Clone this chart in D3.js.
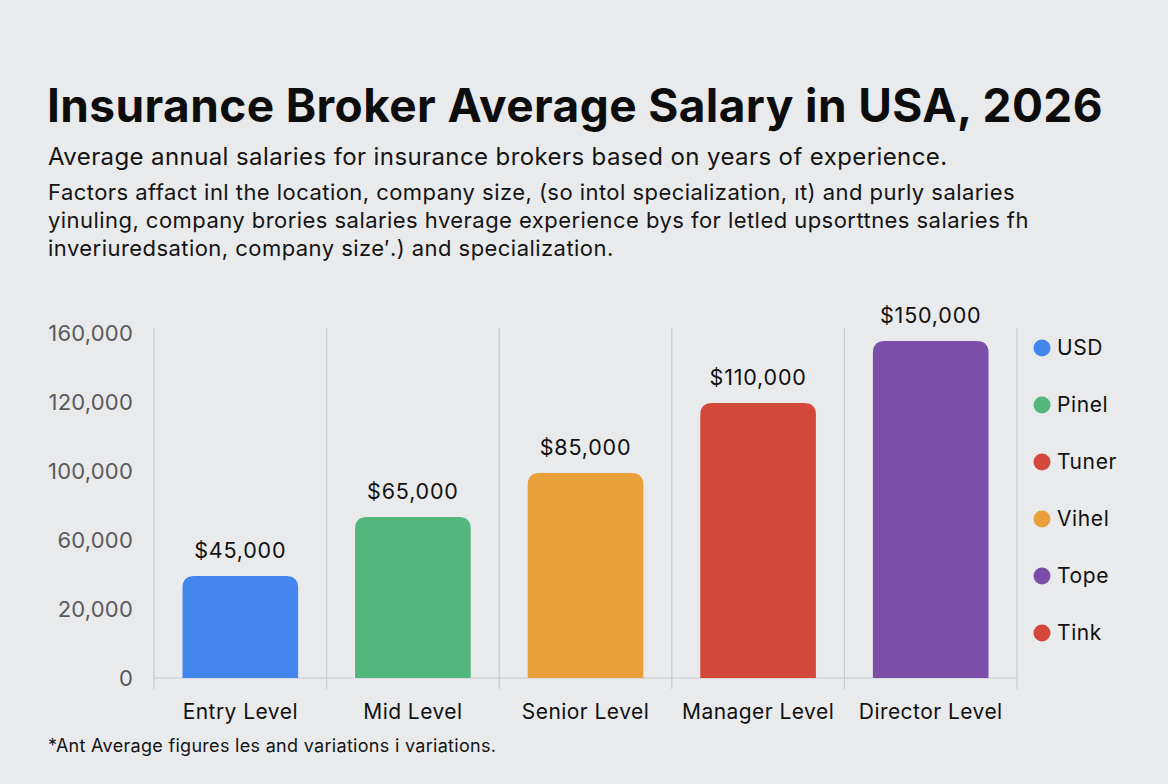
<!DOCTYPE html>
<html>
<head>
<meta charset="utf-8">
<script src="https://cdn.jsdelivr.net/npm/d3@7"></script>
<style>
  body { margin: 0; background: #e9eaec; }
  svg { display: block; font-family: Inter, "Noto Sans", sans-serif; }
</style>
</head>
<body>
<div id="chart"></div>
<script>
// chart data
var levels = ["Entry Level", "Mid Level", "Senior Level", "Manager Level", "Director Level"];
var salaries = [45000, 65000, 85000, 110000, 150000];        // printed labels
var barLevels = [47300, 74700, 95100, 127500, 156300];       // bar heights against the grid
var barColors = ["#4387ee", "#52b67d", "#e9a03b", "#d4483b", "#7b4fa9"];
var tickLabels = ["0", "20,000", "60,000", "100,000", "120,000", "160,000"];
var legendNames = ["USD", "Pinel", "Tuner", "Vihel", "Tope", "Tink"];
var legendColors = ["#4387ee", "#52b67d", "#d4483b", "#e9a03b", "#7b4fa9", "#d4483b"];

var title = "Insurance Broker Average Salary in USA, 2026";
var subtitle = "Average annual salaries for insurance brokers based on years of experience.";
var notes = [
  "Factors affact inl the location, company size, (so intol specialization, \u0131t) and purly salaries",
  "yinuling, company brories salaries hverage experience bys for letled upsorttnes salaries fh",
  "inveriuredsation, company size\u2032.) and specialization."
];
var footnote = "*Ant Average figures les and variations i variations.";

var W = 1168, H = 784;
var plot = {left: 154, right: 1017, top: 333, bottom: 678};

var svg = d3.select("#chart").append("svg")
    .attr("width", W)
    .attr("height", H);

svg.append("rect").attr("width", W).attr("height", H).attr("fill", "#e9eaec");

// titles
svg.append("text")
    .attr("x", 47).attr("y", 122)
    .style("font-size", "46px").style("font-weight", 700)
    .style("letter-spacing", "0.4px").style("fill", "#0d0d0d")
    .text(title);

svg.append("text")
    .attr("x", 48).attr("y", 165)
    .style("font-size", "24px").style("letter-spacing", "0.4px").style("fill", "#141414")
    .text(subtitle);

svg.selectAll(".note")
    .data(notes).enter()
    .append("text")
    .attr("class", "note")
    .attr("x", 48)
    .attr("y", (d, i) => 200 + i * 28)
    .style("font-size", "22px").style("letter-spacing", "0.45px").style("fill", "#141414")
    .text(d => d);

// scales
var x = d3.scaleBand()
    .domain(levels)
    .range([plot.left, plot.right])
    .paddingInner(0.33)
    .paddingOuter(0.165);

var xBands = d3.scaleBand().domain(levels).range([plot.left, plot.right]);

var y = d3.scaleLinear()
    .domain([0, 160000])
    .range([plot.bottom, plot.top]);

// tick labels sit evenly up the axis
var yTicks = d3.scalePoint()
    .domain(tickLabels)
    .range([plot.bottom, plot.top]);

// vertical separators
var seps = levels.map(d => xBands(d)).concat([plot.right]);
svg.append("g").selectAll("line")
    .data(seps).enter()
    .append("line")
    .attr("x1", d => d).attr("x2", d => d)
    .attr("y1", plot.top - 5).attr("y2", plot.bottom + 11)
    .attr("stroke", "#c9cacd").attr("stroke-width", 1.2);

// baseline
svg.append("line")
    .attr("x1", plot.left).attr("x2", plot.right)
    .attr("y1", plot.bottom).attr("y2", plot.bottom)
    .attr("stroke", "#c9cacd").attr("stroke-width", 1.2);

// y axis
var yAxis = svg.append("g")
    .attr("transform", "translate(" + (plot.left - 21) + ",0)")
    .call(d3.axisLeft(yTicks).tickSize(0).tickPadding(0));
yAxis.select(".domain").remove();
yAxis.selectAll("text")
    .style("font-family", "Inter, sans-serif")
    .style("font-size", "22px")
    .style("letter-spacing", "0.2px")
    .style("fill", "#5a5a5c");

// x axis
var xAxis = svg.append("g")
    .attr("transform", "translate(0," + plot.bottom + ")")
    .call(d3.axisBottom(x).tickSize(0).tickPadding(26));
xAxis.select(".domain").remove();
xAxis.selectAll("text")
    .style("font-family", "Inter, sans-serif")
    .style("font-size", "21px")
    .style("letter-spacing", "0.45px")
    .style("fill", "#111");

// bars, rounded only on top
var r = 12;
function barPath(d, i) {
    var x0 = x(levels[i]), w = x.bandwidth();
    var top = y(d), bot = y(0);
    return "M" + x0 + "," + bot +
        "V" + (top + r) +
        "Q" + x0 + "," + top + " " + (x0 + r) + "," + top +
        "H" + (x0 + w - r) +
        "Q" + (x0 + w) + "," + top + " " + (x0 + w) + "," + (top + r) +
        "V" + bot + "Z";
}

svg.append("g").selectAll("path")
    .data(barLevels).enter()
    .append("path")
    .attr("d", barPath)
    .attr("fill", (d, i) => barColors[i]);

var fmt = d3.format("$,");
svg.append("g").selectAll("text")
    .data(barLevels).enter()
    .append("text")
    .attr("x", (d, i) => x(levels[i]) + x.bandwidth() / 2)
    .attr("y", d => y(d) - 18)
    .attr("text-anchor", "middle")
    .style("font-size", "21.5px").style("letter-spacing", "0.8px").style("fill", "#111")
    .text((d, i) => fmt(salaries[i]));

// legend
var legend = svg.append("g").attr("transform", "translate(1042,348)");
legend.selectAll("circle")
    .data(legendNames).enter()
    .append("circle")
    .attr("cx", 0)
    .attr("cy", (d, i) => i * 57)
    .attr("r", 8.5)
    .attr("fill", (d, i) => legendColors[i]);
legend.selectAll("text")
    .data(legendNames).enter()
    .append("text")
    .attr("x", 15)
    .attr("y", (d, i) => i * 57)
    .attr("dy", "0.35em")
    .style("font-size", "21px").style("letter-spacing", "0.6px").style("fill", "#111")
    .text(d => d);

// footnote
svg.append("text")
    .attr("x", 48).attr("y", 752)
    .style("font-size", "18px").style("letter-spacing", "0.3px").style("fill", "#141414")
    .text(footnote);
</script>
</body>
</html>
